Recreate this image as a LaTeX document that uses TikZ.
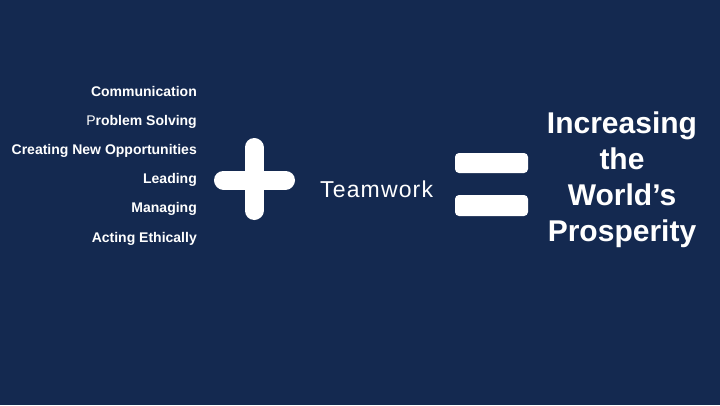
\documentclass[tikz,border=0pt]{standalone}
\usepackage{fontspec}
\setmainfont{Liberation Sans}
\definecolor{navy}{RGB}{20,41,80}
\begin{document}
\begin{tikzpicture}[x=1pt,y=-1pt,
  lbl/.style={anchor=base east,text=white,inner sep=0pt,font=\fontsize{14}{16}\selectfont\bfseries},
  bar/.style={draw=white,line width=19pt,line cap=round},
  eqbar/.style={fill=white,rounded corners=4pt}]
\fill[navy] (0,0) rectangle (720,405);
\useasboundingbox (0,0) rectangle (720,405);
\node[lbl] (c1) at (197,96.5) {Communication};
\node[lbl] (c2) at (197,125.5) {{\mdseries P}roblem Solving};
\node[lbl] (c3) at (197,154.5) {Creating New Opportunities};
\node[lbl] (c4) at (197,183.5) {Leading};
\node[lbl] (c5) at (197,212.5) {Managing};
\node[lbl] (c6) at (197,242.5) {Acting Ethically};
% plus
\coordinate (pv1) at (254,147.5);
\coordinate (pv2) at (254,210.5);
\coordinate (ph1) at (223.5,180);
\coordinate (ph2) at (285.5,180);
\draw[bar] (pv1) -- (pv2);
\draw[bar] (ph1) -- (ph2);
\node[anchor=base west,text=white,inner sep=0pt,font=\fontsize{23}{26}\selectfont\addfontfeature{LetterSpace=5}] (tw) at (320,197) {Teamwork};
% equals
\fill[eqbar] (455,153) rectangle (528,173);
\fill[eqbar] (455,195) rectangle (528,216);
\node[align=center,text=white,inner sep=0pt,font=\fontsize{30}{36}\selectfont\bfseries] (res) at (622,179.5) {Increasing\\the\\World’s\\Prosperity};
\end{tikzpicture}
\end{document}
